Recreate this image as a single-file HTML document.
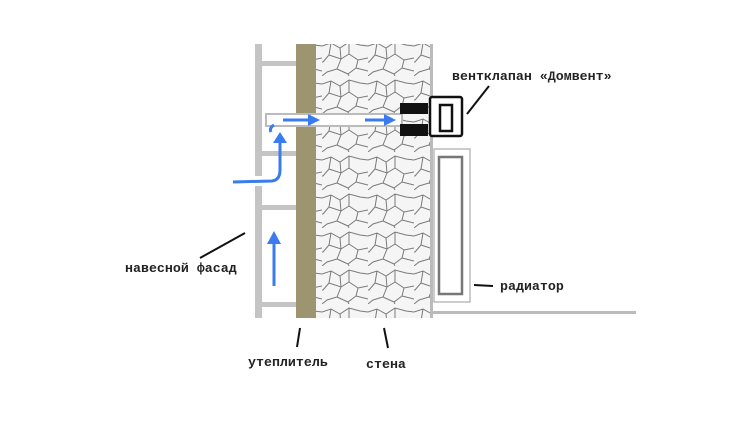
<!DOCTYPE html>
<html><head><meta charset="utf-8"><style>
body{margin:0;background:#fff;width:750px;height:421px;overflow:hidden}
svg text{font-family:"Liberation Mono","DejaVu Sans Mono","Courier New",monospace;font-size:13.3px;font-weight:bold;fill:#222}
</style></head><body>
<svg width="750" height="421" viewBox="0 0 750 421" xmlns="http://www.w3.org/2000/svg">
<defs>
<pattern id="cr" width="46" height="38" patternUnits="userSpaceOnUse">
<rect width="46" height="38" fill="#f5f5f5"/>
<path d="M0 8 L9 5 L18 10 L27 4 L38 7 L46 8 M9 5 L7 17 L1 24 L0 24 M7 17 L19 21 L27 16 L27 4 M27 16 L36 22 L46 20 M19 21 L15 31 L5 34 L0 38 M15 31 L26 36 L34 30 L36 22 M34 30 L46 33 M18 10 L19 21 M26 36 L27 38" stroke="#7a7a7a" stroke-width="1" fill="none"/>
</pattern>
</defs>
<g fill="#c4c4c4">
<rect x="255" y="44" width="7" height="274"/>
<rect x="262" y="61" width="34" height="5"/>
<rect x="262" y="151" width="34" height="5"/>
<rect x="262" y="205" width="34" height="5"/>
<rect x="262" y="302" width="34" height="5"/>
</g>
<rect x="255" y="176" width="8" height="10" fill="#fff"/>
<rect x="296" y="44" width="20" height="274" fill="#9d9570"/>
<rect x="316" y="44" width="114" height="274" fill="url(#cr)"/>
<rect x="430" y="44" width="3" height="274" fill="#bbb"/>
<rect x="433" y="311" width="203" height="3" fill="#bbb"/>
<rect x="266" y="114" width="136" height="12" fill="#fff" stroke="#bbb" stroke-width="2"/>
<rect x="400" y="103" width="28" height="11" fill="#111"/>
<rect x="400" y="124" width="28" height="12" fill="#111"/>
<rect x="430" y="97" width="32" height="39" rx="2" fill="#fff" stroke="#111" stroke-width="2.5"/>
<rect x="440" y="105" width="12" height="26" fill="#fff" stroke="#111" stroke-width="2.5"/>
<rect x="434" y="149" width="36" height="153" fill="#fff" stroke="#bbb" stroke-width="1.5"/>
<rect x="439" y="157" width="23" height="137" fill="#fff" stroke="#777" stroke-width="2.5"/>
<g stroke="#3b7bf0" stroke-width="3" fill="none">
<path d="M233 182 L272 181 Q280 180 280 170 L280 142"/>
<path d="M274 125 Q269 128 271 132"/>
<path d="M283 120 L312 120"/>
<path d="M365 120 L388 120"/>
<path d="M274 286 L274 242"/>
</g>
<g fill="#3b7bf0">
<path d="M280 132 L287 143 L273 143 Z"/>
<path d="M320 120 L308 114 L308 126 Z"/>
<path d="M396 120 L384 114 L384 126 Z"/>
<path d="M274 231 L281 244 L267 244 Z"/>
</g>
<g stroke="#111" stroke-width="2">
<line x1="467" y1="114" x2="489" y2="86"/>
<line x1="200" y1="258" x2="245" y2="233"/>
<line x1="300" y1="328" x2="297" y2="347"/>
<line x1="384" y1="328" x2="388" y2="348"/>
<line x1="474" y1="285" x2="493" y2="286"/>
</g>
<text x="452" y="80">вентклапан «Домвент»</text>
<text x="125" y="272">навесной фасад</text>
<text x="248" y="366">утеплитель</text>
<text x="366" y="368">стена</text>
<text x="500" y="290">радиатор</text>
</svg>
</body></html>
